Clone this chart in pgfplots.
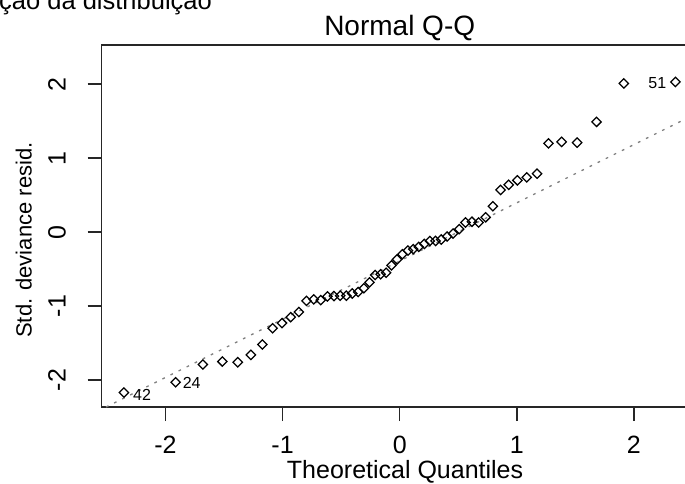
\documentclass[border=0pt]{standalone}
\usepackage{fontspec}
\setmainfont{Liberation Sans}
\usepackage{pgfplots}
\pgfplotsset{compat=1.18}
\newcommand{\lblfont}{\fontsize{25pt}{30pt}\selectfont}
\newcommand{\ylblfont}{\fontsize{22pt}{26pt}\selectfont}
\newcommand{\ttlfont}{\fontsize{28pt}{33pt}\selectfont}
\newcommand{\idfont}{\fontsize{16pt}{19pt}\selectfont}
\begin{document}
\begin{tikzpicture}
\begin{axis}[
  name=ax,
  at={(101.7pt,76pt)}, anchor=south west,
  scale only axis, width=596pt, height=362pt,
  xmin=-2.545, xmax=2.545, ymin=-2.365, ymax=2.53,
  clip=false,
  axis line style={line width=1.5pt, black!85},
  xtick={-2,-1,0,1,2}, xticklabels={-2,-1,0,1,2},
  ytick={-2,-1,0,1,2}, yticklabels={-2,-1,0,1,2},
  xtick pos=left, ytick pos=left,
  tick align=outside, major tick length=14pt,
  tick style={line width=1.5pt, black!85},
  xticklabel style={anchor=center, yshift=-23.7pt, font=\lblfont},
  yticklabel style={xshift=-30.7pt, rotate=90, anchor=center, font=\lblfont},
  xlabel={Theoretical Quantiles},
  ylabel={Std. deviance resid.},
  xlabel style={at={([yshift=-65pt]axis description cs:0.509,0)}, anchor=center, font=\lblfont},
  ylabel style={at={([xshift=-78pt]axis description cs:0,0.461)}, anchor=center, font=\ylblfont},
]
\addplot[gray, dash pattern=on 2.7pt off 6.3pt, line width=1.3pt] coordinates {(-2.508,-2.365) (2.545,1.612)};
\addplot[only marks, mark=square, mark size=3.3pt, mark options={rotate=45, line width=1.25pt, black, fill=none}] coordinates {
(-2.355,-2.17)
(-1.914,-2.03)
(-1.681,-1.79)
(-1.515,-1.75)
(-1.383,-1.76)
(-1.271,-1.66)
(-1.173,-1.52)
(-1.085,-1.30)
(-1.005,-1.23)
(-0.931,-1.15)
(-0.861,-1.08)
(-0.796,-0.93)
(-0.734,-0.91)
(-0.674,-0.92)
(-0.617,-0.87)
(-0.562,-0.865)
(-0.508,-0.86)
(-0.456,-0.86)
(-0.405,-0.83)
(-0.355,-0.81)
(-0.306,-0.76)
(-0.258,-0.68)
(-0.210,-0.58)
(-0.163,-0.57)
(-0.116,-0.55)
(-0.070,-0.45)
(-0.023,-0.37)
(0.023,-0.30)
(0.070,-0.25)
(0.116,-0.23)
(0.163,-0.20)
(0.210,-0.16)
(0.258,-0.12)
(0.306,-0.12)
(0.355,-0.10)
(0.405,-0.06)
(0.456,-0.02)
(0.508,0.04)
(0.562,0.13)
(0.617,0.14)
(0.674,0.13)
(0.734,0.20)
(0.796,0.35)
(0.861,0.57)
(0.931,0.64)
(1.005,0.70)
(1.085,0.74)
(1.173,0.79)
(1.271,1.20)
(1.383,1.22)
(1.515,1.21)
(1.681,1.49)
(1.914,2.01)
(2.355,2.03)
};
\node[anchor=west, inner sep=0pt, font=\idfont] at ([xshift=9pt,yshift=-2pt]axis cs:-2.355,-2.17) {42};
\node[anchor=west, inner sep=0pt, font=\idfont] at ([xshift=7pt,yshift=-1pt]axis cs:-1.914,-2.03) {24};
\node[anchor=east, inner sep=0pt, font=\idfont] at ([xshift=-9pt,yshift=-1pt]axis cs:2.355,2.03) {51};
\end{axis}
\node[anchor=base, inner sep=0pt, font=\ttlfont] at ([yshift=9pt]ax.north) {Normal Q-Q};
\node[anchor=base west, inner sep=0pt, font=\fontsize{25.5pt}{30pt}\selectfont] at (-1pt,473.5pt) {ção da distribuição};
\pgfresetboundingbox
\path[use as bounding box] (0pt,0pt) rectangle (685pt,483pt);
\end{tikzpicture}
\end{document}
